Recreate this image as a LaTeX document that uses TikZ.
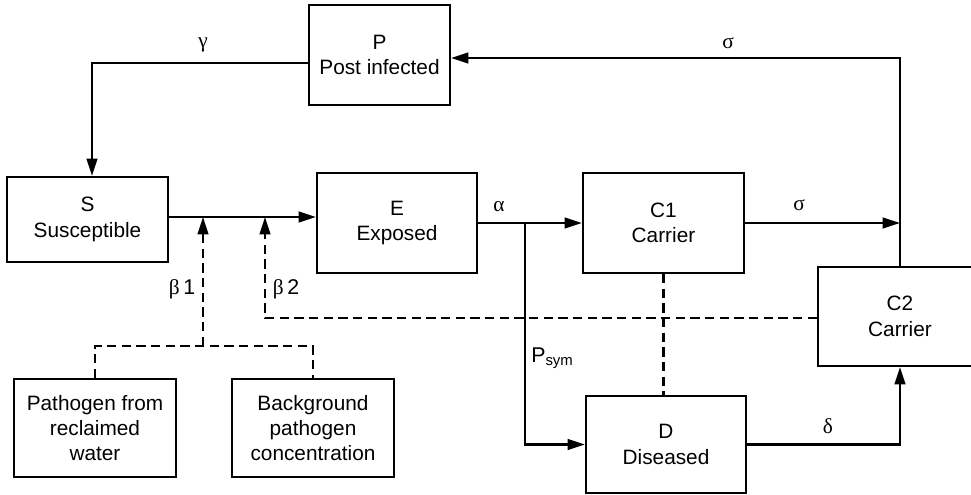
\documentclass[tikz,border=0pt]{standalone}
\usepackage{fontspec}
\setmainfont{Liberation Sans}
\newfontfamily\gr{Liberation Serif}
\usetikzlibrary{arrows.meta}
\begin{document}
\begin{tikzpicture}[x=0.75pt,y=-0.75pt,
  box/.style={draw,line width=1.6pt,align=center,inner sep=0pt,
    font=\fontsize{15.6}{19}\selectfont},
  arr/.style={line width=1.6pt,-{Triangle[length=13pt,width=8pt]}},
  dsh/.style={line width=1.6pt,dash pattern=on 7pt off 4pt},
  lbl/.style={font=\fontsize{16}{18}\selectfont,inner sep=0pt}]
\useasboundingbox (0,0) rectangle (971,495);
% nodes
\node[box,minimum width=105.75pt,minimum height=75pt] (P) at (379.5,55) {P\\Post infected};
\node[box,minimum width=120.75pt,minimum height=63.75pt] (S) at (87.5,219.5) {S\\Susceptible};
\node[box,minimum width=120pt,minimum height=75pt] (E) at (397,223) {E\\Exposed};
\node[box,minimum width=120.75pt,minimum height=75pt] (C1) at (663.5,223) {C1\\Carrier};
\node[box,minimum width=123pt,minimum height=74.25pt] (C2) at (900,316.5) {C2\\Carrier};
\node[box,minimum width=120pt,minimum height=72.75pt] (D) at (666,444.5) {D\\Diseased};
\node[box,minimum width=121.5pt,minimum height=73.5pt] (PW) at (95,428) {Pathogen from\\reclaimed\\water};
\node[box,minimum width=121.5pt,minimum height=73.5pt] (BG) at (313,428) {Background\\pathogen\\concentration};
% junctions
\coordinate (j1) at (203,217);
\coordinate (j2) at (265,217);
\coordinate (b1) at (203,346);
\coordinate (b2) at (265,318);
\coordinate (j3) at (525,223);
\coordinate (j4) at (900,223);
\coordinate (j5) at (900,58);
\coordinate (j6) at (92,63);
% connectors
\draw[arr] (S.east|-j1) -- (E.west|-j1);
\draw[dsh,arr] (b1) -- (j1);
\draw[dsh] (PW.north) |- (b1) -| (BG.north);
\draw[dsh,arr] (C2.west|-b2) -| (j2);
\draw[arr] (E) -- (C1);
\draw[arr] (j3) |- (D.west);
\draw[arr] (C1.east|-j4) -- (j4);
\draw[arr] (C2.north) -- (j5) -- (P.east|-j5);
\draw[arr] (P.west|-j6) -- (j6) -- (S.north-|j6);
\draw[dsh] (C1.south) -- (C1.south|-D.north);
\draw[arr] (D.east) -| (C2.south);
% labels
\node[lbl] (lg) at (203,45) {\gr γ};
\node[lbl] (ls1) at (728,43) {\gr σ};
\node[lbl] (la) at (499,207) {\gr α};
\node[lbl] (ls2) at (799,205) {\gr σ};
\node[lbl] (lb1) at (182,289) {{\gr β}\,1};
\node[lbl] (lb2) at (286,289) {{\gr β}\,2};
\node[lbl,anchor=west] (lp) at (531,358) {P\textsubscript{sym}};
\node[lbl] (ld) at (828,426) {\gr δ};
\end{tikzpicture}
\end{document}
